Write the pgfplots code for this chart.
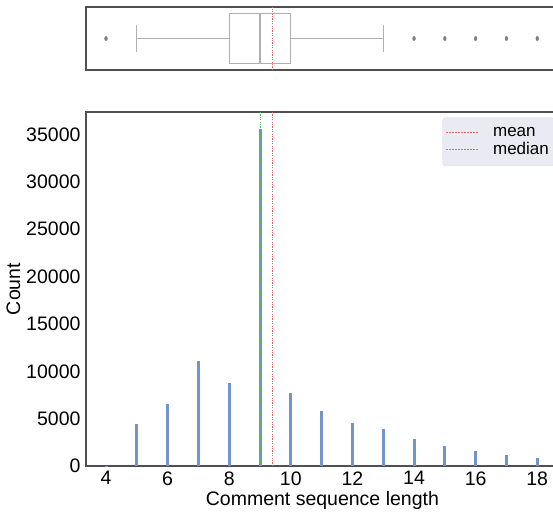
\documentclass[border=0pt]{standalone}
\usepackage{pgfplots}
\pgfplotsset{compat=1.18}
\usepgfplotslibrary{statistics}
\usepackage{fontspec}
\setmainfont{Liberation Sans}
\definecolor{barblue}{HTML}{7294C8}
\definecolor{meanred}{HTML}{E06468}
\definecolor{medgreen}{HTML}{4FB56E}
\definecolor{spine}{HTML}{505050}
\definecolor{boxgray}{HTML}{B0B0B0}
\definecolor{legfill}{HTML}{EAEAF2}
\newcommand{\tickfont}{\fontsize{19.5}{22}\selectfont}
\begin{document}
\begin{tikzpicture}
\useasboundingbox (0pt,0pt) rectangle (553pt,514pt);
% histogram
\begin{axis}[
    at={(86pt,48pt)}, anchor=south west, scale only axis,
    width=472.8pt, height=354pt,
    xmin=3.35, xmax=18.7, ymin=0, ymax=37380,
    xtick={4,6,...,18}, ytick={0,5000,...,35000},
    major tick length=0pt,
    axis line style={spine, line width=1.2pt},
    tick label style={font=\tickfont},
    /pgf/number format/assume math mode=true,
    /pgf/number format/1000 sep={},
    scaled y ticks=false,
    xlabel={Comment sequence length}, ylabel={Count},
    label style={font=\tickfont},
    xticklabel style={yshift=-2pt},
    yticklabel style={xshift=-2pt},
    xlabel style={yshift=1pt},
    ylabel style={yshift=-1pt},
    legend style={at={(0.99,0.985)}, anchor=north east, fill=legfill,
        draw=legfill!85!gray, rounded corners=3pt,
        font=\fontsize{17}{20}\selectfont, row sep=1pt,
        inner xsep=3pt, inner ysep=7.5pt},
    legend cell align=left,
    legend image code/.code={\draw[#1] (0pt,0pt) -- (32pt,0pt);},
]
\addplot[ycomb, draw=barblue, line width=3pt, forget plot] coordinates {
 (4,20) (5,4430) (6,6540) (7,11070) (8,8750) (9,35600) (10,7660)
 (11,5800) (12,4500) (13,3870) (14,2850) (15,2070) (16,1550)
 (17,1160) (18,810)
};
\addplot[draw=meanred, line width=1pt, dash pattern=on 1.2pt off 1.2pt, forget plot] coordinates {(9.39,0) (9.39,37380)};
\addplot[draw=medgreen, line width=1pt, dash pattern=on 1.2pt off 1.2pt, forget plot] coordinates {(9,0) (9,37380)};
\addlegendimage{draw=meanred, line width=1.4pt, dash pattern=on 1.5pt off 1.5pt}
\addlegendentry{\hspace*{12pt}mean}
\addlegendimage{draw=medgreen, line width=1.4pt, dash pattern=on 1.5pt off 1.5pt}
\addlegendentry{\hspace*{12pt}median}
\end{axis}
% boxplot
\begin{axis}[
    at={(86pt,444pt)}, anchor=south west, scale only axis,
    width=472.8pt, height=63pt,
    xmin=3.35, xmax=18.7, ymin=-0.5, ymax=0.5,
    xtick=\empty, ytick=\empty,
    axis line style={spine, line width=1.2pt},
    boxplot/draw direction=x,
]
\addplot[color=boxgray, line width=1.3pt, solid,
    boxplot prepared={draw position=0, lower whisker=5, lower quartile=8,
    median=9, upper quartile=10, upper whisker=13, box extend=0.8,
    whisker extend=0.42}] coordinates {};
\addplot[only marks, mark=*, mark size=2pt, color=gray,
    mark options={xscale=0.7, yscale=1.1}]
  coordinates {(4,0) (14,0) (15,0) (16,0) (17,0) (18,0)};
\addplot[draw=meanred, line width=1pt, dash pattern=on 1.2pt off 1.2pt] coordinates {(9.39,-0.5) (9.39,0.5)};
\end{axis}
\end{tikzpicture}
\end{document}
